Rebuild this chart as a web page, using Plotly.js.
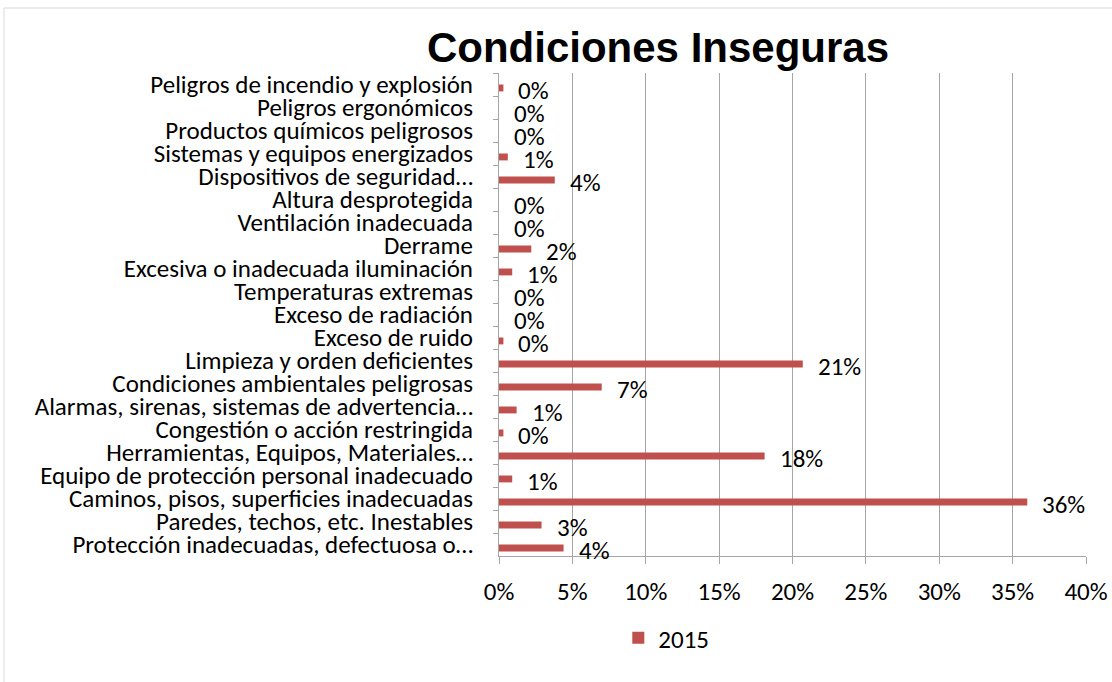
<!DOCTYPE html>
<html>
<head>
<meta charset="utf-8">
<script src="https://cdn.plot.ly/plotly-3.0.1.min.js"></script>
<style>html,body{margin:0;padding:0;background:#fff;}#chart{width:1112px;height:682px;}</style>
</head>
<body>
<div id="chart"></div>
<script>
const categories = [
  "Peligros de incendio y explosión",
  "Peligros ergonómicos",
  "Productos químicos peligrosos",
  "Sistemas y equipos energizados",
  "Dispositivos de seguridad…",
  "Altura desprotegida",
  "Ventilación inadecuada",
  "Derrame",
  "Excesiva o inadecuada iluminación",
  "Temperaturas extremas",
  "Exceso de radiación",
  "Exceso de ruido",
  "Limpieza y orden deficientes",
  "Condiciones ambientales peligrosas",
  "Alarmas, sirenas, sistemas de advertencia…",
  "Congestión o acción restringida",
  "Herramientas, Equipos, Materiales…",
  "Equipo de protección personal inadecuado",
  "Caminos, pisos, superficies inadecuadas",
  "Paredes, techos, etc. Inestables",
  "Protección inadecuadas, defectuosa o…"
];
const values2015 = [0.003, 0, 0, 0.006, 0.038, 0, 0, 0.022, 0.009, 0, 0, 0.003,
  0.207, 0.070, 0.012, 0.003, 0.181, 0.009, 0.360, 0.029, 0.044];
const seriesName = "2015";
const xTickVals = [0, 0.05, 0.10, 0.15, 0.20, 0.25, 0.30, 0.35, 0.40];

const FONT = 'Carlito, Calibri, "Open Sans", sans-serif';
const FS = 25;
const GRID = '#a6a6a6';

const trace = {
  type: 'bar',
  orientation: 'h',
  name: seriesName,
  x: values2015,
  y: categories,
  width: 0.3,
  offset: 0,
  marker: {color: '#c0504d'},
  hoverinfo: 'x+y'
};

const annotations = values2015.map((v, i) => ({
  x: v, y: categories[i], xref: 'x', yref: 'y',
  text: Math.round(v * 100) + '%',
  showarrow: false, xanchor: 'left', yanchor: 'middle',
  xshift: 13, yshift: -6,
  font: {family: FONT, size: FS, color: '#000'}
}));

const layout = {
  width: 1112, height: 682,
  margin: {l: 499, r: 26, t: 73, b: 126, pad: 0},
  paper_bgcolor: '#fff', plot_bgcolor: '#fff',
  font: {family: FONT, size: FS, color: '#000'},
  title: {
    text: 'Condiciones Inseguras',
    font: {family: '"Liberation Sans", Arial, sans-serif', size: 42, color: '#000', weight: 'bold'},
    x: 658 / 1112, xref: 'container', xanchor: 'center',
    y: 1 - 47 / 682, yref: 'container', yanchor: 'middle'
  },
  xaxis: {
    range: [0, 0.4], tickvals: xTickVals, tickformat: '.0%',
    showgrid: true, gridcolor: GRID, gridwidth: 1,
    showline: true, linecolor: GRID, linewidth: 1,
    ticks: 'outside', ticklen: 7, tickcolor: GRID,
    zeroline: false, fixedrange: true,
    tickfont: {family: FONT, size: FS, color: '#000'},
    ticklabelstandoff: 6
  },
  yaxis: {
    type: 'category', range: [categories.length - 0.5, -0.5],
    tickmode: 'linear', tick0: 0, dtick: 1,
    showgrid: false, showline: true, linecolor: GRID, linewidth: 1,
    ticks: 'outside', tickson: 'boundaries', ticklen: 5, tickcolor: GRID,
    zeroline: false, fixedrange: true,
    tickfont: {family: FONT, size: FS, color: '#000'},
    ticklabelstandoff: 20
  },
  showlegend: true,
  legend: {
    orientation: 'h', x: 0.285, xanchor: 'center', y: -0.17, yanchor: 'middle',
    itemwidth: 30,
    font: {family: FONT, size: FS, color: '#000'}
  },
  annotations: annotations,
  shapes: [{
    type: 'rect', xref: 'paper', yref: 'paper',
    x0: (4 - 499) / 587, x1: 2, y0: (556 - 8) / 483, y1: -2,
    line: {color: '#d9d9d9', width: 1}, fillcolor: 'rgba(0,0,0,0)', layer: 'below'
  }],
  bargap: 0.7
};

Plotly.newPlot('chart', [trace], layout, {displayModeBar: false, staticPlot: true});
</script>
</body>
</html>
